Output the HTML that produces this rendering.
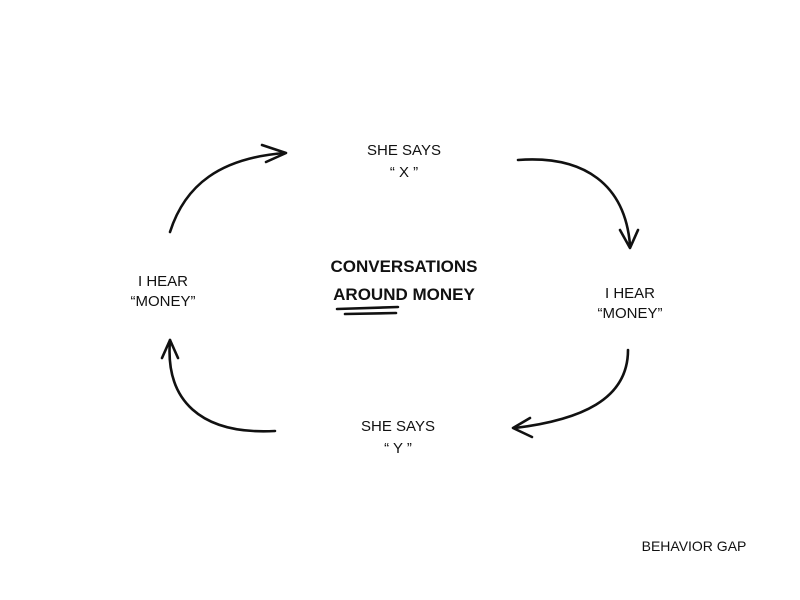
<!DOCTYPE html>
<html><head><style>
html,body{margin:0;padding:0;background:#fff;width:800px;height:600px;overflow:hidden}
svg{position:absolute;left:0;top:0}
text{font-family:"Liberation Sans",sans-serif;fill:#111;text-anchor:middle}
</style></head><body>
<svg width="800" height="600" viewBox="0 0 800 600">
<g fill="none" stroke="#111" stroke-width="2.6" stroke-linecap="round" stroke-linejoin="round">
<!-- top-left arrow -->
<path d="M170 232 C185 185 220 158 285 153"/>
<path d="M262 145 L286 153 L266 162"/>
<!-- top-right arrow -->
<path d="M518 160 C585 155 625 185 630 245"/>
<path d="M620 230 L630 248 L638 230"/>
<!-- bottom-right arrow -->
<path d="M628 350 C628 400 580 420 515 428"/>
<path d="M530 418 L513 428 L532 437"/>
<!-- bottom-left arrow -->
<path d="M275 431 C200 435 165 400 170 340"/>
<path d="M162 358 L170 340 L178 358"/>
<!-- underline -->
<path d="M337 309 L398 307"/>
<path d="M345 314 L396 313"/>
</g>
<text x="404" y="155" font-size="15">SHE SAYS</text>
<text x="404" y="177" font-size="15">“ X ”</text>
<text x="404" y="272" font-size="17" font-weight="bold">CONVERSATIONS</text>
<text x="404" y="300" font-size="17" font-weight="bold">AROUND MONEY</text>
<text x="163" y="286" font-size="15">I HEAR</text>
<text x="163" y="306" font-size="15">“MONEY”</text>
<text x="630" y="298" font-size="15">I HEAR</text>
<text x="630" y="318" font-size="15">“MONEY”</text>
<text x="398" y="431" font-size="15">SHE SAYS</text>
<text x="398" y="453" font-size="15">“ Y ”</text>
<text x="694" y="551" font-size="14">BEHAVIOR GAP</text>
</svg>
</body></html>
